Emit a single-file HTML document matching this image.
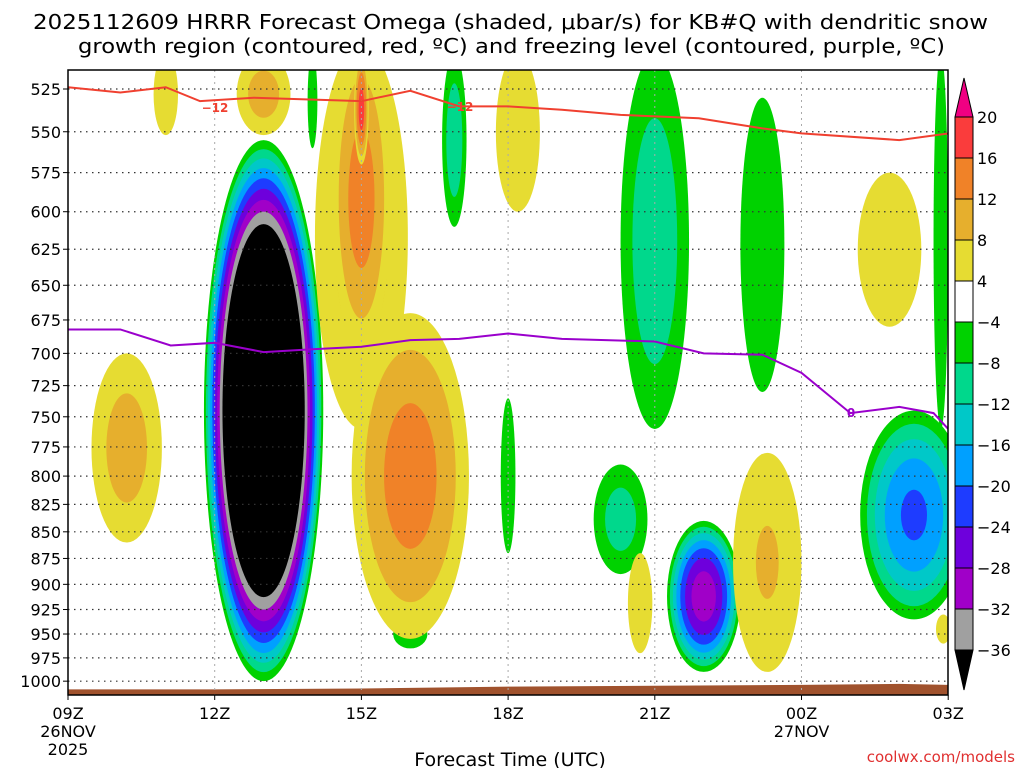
<!DOCTYPE html>
<html><head><meta charset="utf-8"><style>
body{margin:0;background:#fff;}
svg{display:block;font-family:"DejaVu Sans","Liberation Sans",sans-serif;}
</style></head><body>
<svg id="chart" width="1024" height="768" viewBox="0 0 1024 768" xmlns="http://www.w3.org/2000/svg">
<defs><clipPath id="plotclip"><rect x="68" y="70" width="880" height="625"/></clipPath></defs>
<text x="33" y="29" font-size="20" textLength="955" lengthAdjust="spacingAndGlyphs">2025112609 HRRR Forecast Omega (shaded, μbar/s) for KB#Q with dendritic snow</text>
<text x="78" y="53" font-size="20" textLength="867" lengthAdjust="spacingAndGlyphs">growth region (contoured, red, ºC) and freezing level (contoured, purple, ºC)</text>
<g id="plot" clip-path="url(#plotclip)"></g>
<g id="axes"></g>
<g id="cbar"></g>
<text x="510" y="766" font-size="19" text-anchor="middle">Forecast Time (UTC)</text>
<text x="1015" y="762" font-size="15" fill="#e03030" text-anchor="end">coolwx.com/models</text>
</svg>
<script>
// ---- data ----
const pressureTicks=[525,550,575,600,625,650,675,700,725,750,775,800,825,850,875,900,925,950,975,1000];
const timeTicks=[0,3,6,9,12,15,18];
const timeLabels=["09Z","12Z","15Z","18Z","21Z","00Z","03Z"];
const levelLabels=[20,16,12,8,4,-4,-8,-12,-16,-20,-24,-28,-32,-36];
// omega features: center hour, half-width (h), top p, bottom p, peak value
const blobT=[4.0,5.0,7.9,9.0,7.0,12.0,14.2,11.3,13.0,17.3,17.85,1.2,2.0,4.0,6.0,6.0,6.0,7.0,9.2,16.8,14.3,11.7,17.9];
const blobW=[1.22,0.1,0.25,0.15,0.35,0.7,0.45,0.55,0.75,1.1,0.15,0.72,0.25,0.55,0.95,0.6,0.15,1.2,0.45,0.65,0.7,0.25,0.15];
const blobTop=[555,505,505,735,935,505,530,790,840,745,505,700,505,505,500,500,505,670,505,575,780,870,930];
const blobBot=[1000,560,610,870,965,760,730,890,990,935,760,860,552,552,760,700,570,955,600,680,990,970,960];
const blobPeak=[-65,-6,-11,-6,-6,-11,-6,-10,-31,-21,-6,10,6,10,10,14,18,14,6,6,8.5,6,6];
// -12C dendritic line
const redT=[0,1.07,2.0,2.7,3.8,6.0,7.0,8.0,9.0,10.1,11.3,12.9,14.2,15.0,17.0,18.0];
const redP=[524,527,524,532,530,532,526,535,535,537,540,542,548,551,555,551];
// 0C freezing level
const purT=[0,1.07,2.1,3.0,4.0,4.95,6.0,7.0,8.0,9.0,10.1,12.0,13.0,14.2,15.0,16.0,17.0,17.7,18.0];
const purP=[682,682,694,692,699,697,695,690,689,685,689,691,700,701,715,747,742,747,760];
// surface pressure
const sfcT=[0,3,6,9,12,15,17,18];
const sfcP=[1009,1009,1008,1006,1005,1004,1003,1004];

// ---- scales ----
const X0=68,PXH=48.9;
function xs(t){return X0+t*PXH;}
function ys(p){return 89+919*Math.log(p/525);}
const NS="http://www.w3.org/2000/svg";
function mk(tag,attrs,parent){const e=document.createElementNS(NS,tag);for(const k in attrs)e.setAttribute(k,attrs[k]);parent.appendChild(e);return e;}
const negCol={4:"#00d200",8:"#00d88c",12:"#00c8c8",16:"#00a0ff",20:"#1e3cff",24:"#6e00dc",28:"#a000c8",32:"#a0a0a0",36:"#000000"};
const posCol={4:"#e6dc32",8:"#e6af2d",12:"#f08228",16:"#fa3c3c",20:"#f00082"};
const plot=document.getElementById('plot');
// blobs
blobT.forEach((t,i)=>{
  const pk=Math.abs(blobPeak[i]);const cols=blobPeak[i]<0?negCol:posCol;
  const cx=xs(t),rx=blobW[i]*PXH,y1=ys(blobTop[i]),y2=ys(blobBot[i]);
  const cy=(y1+y2)/2,ry=(y2-y1)/2;
  for(let L=4;L<pk&&L<=36;L+=4){
    const r=Math.sqrt((pk-L)/(pk-4));
    const e=mk('ellipse',{cx:cx,cy:cy,rx:rx*r,ry:ry*r,fill:cols[L]},plot);
    
    
  }
});
// surface
let sp="M"+xs(0)+",700 ";sfcT.forEach((t,i)=>sp+="L"+xs(t)+","+ys(sfcP[i])+" ");sp+="L"+xs(18)+",700Z";
const sf=mk('path',{d:sp,fill:"#a0522d"},plot);


// grid
pressureTicks.forEach(p=>{const g=mk('line',{x1:68,x2:948,y1:ys(p),y2:ys(p),stroke:"#333","stroke-width":1.2,"stroke-dasharray":"1.5 4.5"},plot);
  
  });
timeTicks.slice(1,-1).forEach(t=>{const g=mk('line',{x1:xs(t),x2:xs(t),y1:70,y2:695,stroke:"#aaa","stroke-width":1,"stroke-dasharray":"2 4"},plot);
  
  });
// lines
function line(T,P,col,name){let d="";T.forEach((t,i)=>d+=(i?"L":"M")+xs(t)+","+ys(P[i]));
  const l=mk('path',{d:d,fill:"none",stroke:col,"stroke-width":2},plot);
  
  }
line(redT,redP,"#f04030","dendritic-minus12-line");
line(purT,purP,"#9a00cc","freezing-level-line");
[[215,108],[460,107]].forEach(a=>{
  const t=mk('text',{x:a[0],y:a[1]+4,"font-size":12,"font-weight":"bold",fill:"#f04030","text-anchor":"middle"},plot);t.textContent="−12";
  
  });
const zl=mk('text',{x:851,y:417,"font-size":12,"font-weight":"bold",fill:"#9a00cc","text-anchor":"middle"},plot);zl.textContent="0";


// axes
const ax=document.getElementById('axes');
const fr=mk('rect',{x:68,y:70,width:880,height:625,fill:"none",stroke:"#000","stroke-width":1.5},ax);


pressureTicks.forEach(p=>{const y=ys(p);mk('line',{x1:63,x2:68,y1:y,y2:y,stroke:"#000"},ax);
  const t=mk('text',{x:61,y:y+6,"font-size":16,"text-anchor":"end"},ax);t.textContent=p;
  
  });
timeTicks.forEach((h,i)=>{const x=xs(h);mk('line',{x1:x,x2:x,y1:695,y2:700,stroke:"#000"},ax);
  const t=mk('text',{x:x,y:719,"font-size":16,"text-anchor":"middle"},ax);t.textContent=timeLabels[i];
  
  });
[["26NOV",xs(0),737],["2025",xs(0),755],["27NOV",xs(15),737]].forEach(a=>{const t=mk('text',{x:a[1],y:a[2],"font-size":16,"text-anchor":"middle"},ax);t.textContent=a[0];
  
  });
// colorbar
const cb=document.getElementById('cbar');
const bandCols=["#fa3c3c","#f08228","#e6af2d","#e6dc32","#ffffff","#00d200","#00d88c","#00c8c8","#00a0ff","#1e3cff","#6e00dc","#a000c8","#a0a0a0"];
const cbx=955,cbw=18,cbTop=117,bh=41;
mk('polygon',{points:`${cbx},${cbTop} ${cbx+cbw},${cbTop} ${cbx+cbw/2},78`,fill:"#f00082",stroke:"#000"},cb);
bandCols.forEach((c,i)=>{const r=mk('rect',{x:cbx,y:cbTop+i*bh,width:cbw,height:bh,fill:c,stroke:"#000","stroke-width":1},cb);
  
  });
const cbBot=cbTop+bandCols.length*bh;
mk('polygon',{points:`${cbx},${cbBot} ${cbx+cbw},${cbBot} ${cbx+cbw/2},690`,fill:"#000",stroke:"#000"},cb);
levelLabels.forEach((v,i)=>{const y=cbTop+i*bh;
  const t=mk('text',{x:977,y:y+6,"font-size":16},cb);t.textContent=v<0?"−"+Math.abs(v):v;
  
  });
</script>
</body></html>
